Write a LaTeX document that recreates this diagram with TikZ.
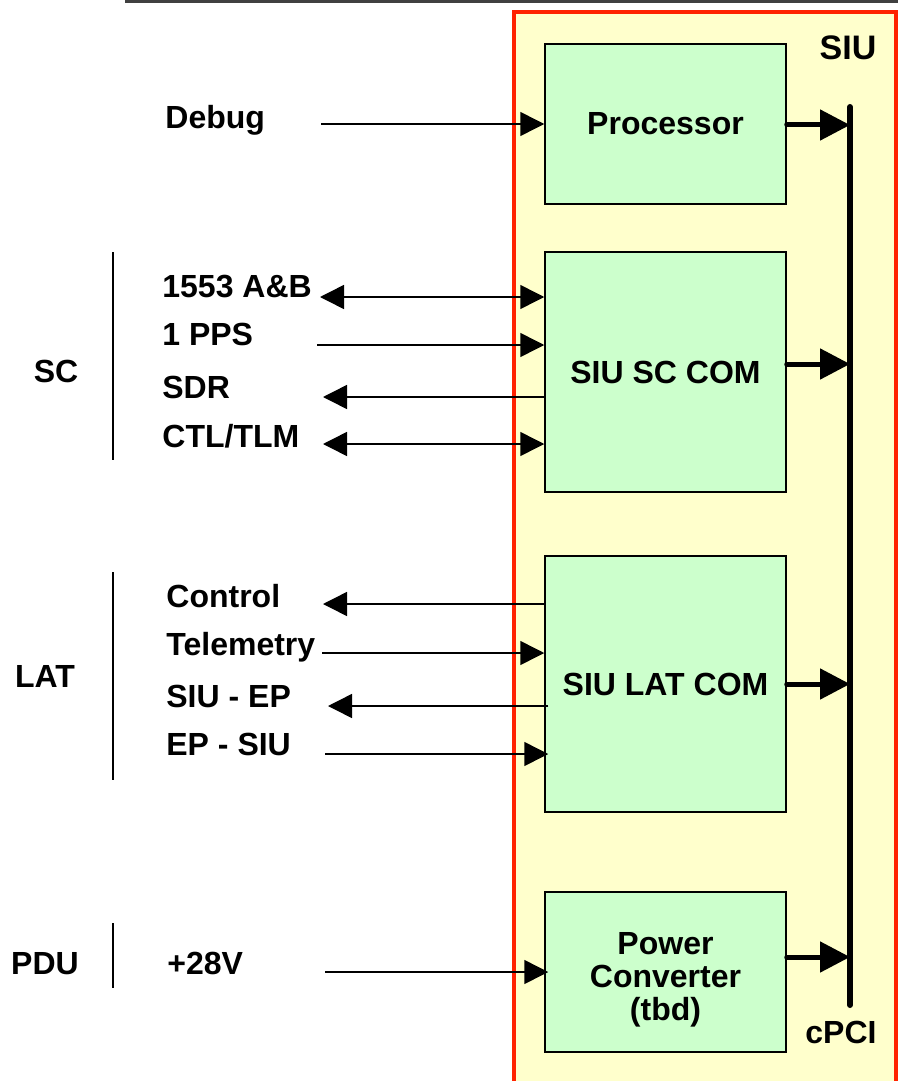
\documentclass[tikz,border=0pt]{standalone}
\usepackage{fontspec}
\setmainfont{Liberation Sans}
\usetikzlibrary{arrows.meta, positioning}
\usepackage{xcolor}
\definecolor{siured}{HTML}{FF2200}
\definecolor{siuyellow}{HTML}{FFFFCC}
\definecolor{siugreen}{HTML}{CCFFCC}

\begin{document}
\begin{tikzpicture}[
    x=0.5pt, y=-0.5pt,
    >={Triangle[length=12pt, width=12pt]},
    frame/.style={rectangle, draw=siured, fill=siuyellow, line width=2pt, minimum width=191pt, minimum height=544pt, inner sep=0pt},
    block/.style={rectangle, draw=black, fill=siugreen, line width=0.75pt, minimum width=120.5pt, inner sep=0pt, align=center, font=\fontsize{16}{16.5}\selectfont\bfseries},
    sigtext/.style={anchor=base west, inner sep=0pt, font=\fontsize{16}{19}\selectfont\bfseries},
    grouptext/.style={anchor=base, inner sep=0pt, font=\fontsize{16}{19}\selectfont\bfseries},
    sig/.style={line width=0.75pt},
    grpline/.style={line width=0.75pt},
    bus/.style={line width=3pt, line cap=round},
    busarrow/.style={line width=2.5pt, line cap=round, -{Triangle[length=15pt, width=15pt]}}
  ]
  \useasboundingbox (0,0) rectangle (898,1081);
  \clip (0,0) rectangle (898,1081);

  % top rule
  \coordinate (topl) at (125,2);
  \coordinate (topr) at (898,2);
  \draw[line width=1.5pt, black!75] (topl) -- (topr);

  % SIU frame and blocks
  \node[frame] (siu) at (705,556) {};
  \node[grouptext, font=\fontsize{17}{19}\selectfont\bfseries] (siutext) at (848,60) {SIU};
  \node[block, minimum height=80pt] (proc) at (665.5,124) {Processor};
  \node[block, minimum height=120pt] (sccom) at (665.5,372) {SIU SC COM};
  \node[block, minimum height=128pt] (latcom) at (665.5,684) {SIU LAT COM};
  \node[block, minimum height=80pt] (power) at (665.5,972) {\rule{0pt}{18.5pt}Power\\Converter\\(tbd)};

  % cPCI bus
  \coordinate (bustop) at (850,107);
  \coordinate (busbot) at (850,1005);
  \draw[bus] (bustop) -- (busbot);
  \node[grouptext] (cpci) at (841,1043) {cPCI};
  \draw[busarrow] (proc.east |- 0,125) -- (bustop |- 0,125);
  \draw[busarrow] (sccom.east |- 0,364) -- (bustop |- 0,364);
  \draw[busarrow] (latcom.east |- 0,684) -- (bustop |- 0,684);
  \draw[busarrow] (power.east |- 0,957) -- (bustop |- 0,957);

  % debug
  \node[sigtext] (debugtext) at (165,128) {Debug};
  \coordinate (debug) at (321,124);
  \draw[sig, ->] (debug) -- (proc.west |- debug);

  % SC group
  \node[grouptext] (sctext) at (56,382) {SC};
  \coordinate (sctop) at (113,252);
  \coordinate (scbot) at (113,460);
  \draw[grpline] (sctop) -- (scbot);
  \node[sigtext] (miltext) at (162,297) {1553 A\&B};
  \node[sigtext] (ppstext) at (162,345) {1 PPS};
  \node[sigtext] (sdrtext) at (162,398) {SDR};
  \node[sigtext] (ctltext) at (162,447) {CTL/TLM};
  \coordinate (mil) at (320,297);
  \coordinate (pps) at (317,345);
  \coordinate (sdr) at (323,397);
  \coordinate (ctltlm) at (323,444);
  \draw[sig, <->] (mil) -- (sccom.west |- mil);
  \draw[sig, ->] (pps) -- (sccom.west |- pps);
  \draw[sig, ->] (sccom.west |- sdr) -- (sdr);
  \draw[sig, <->] (ctltlm) -- (sccom.west |- ctltlm);

  % LAT group
  \node[grouptext] (lattext) at (45,687) {LAT};
  \coordinate (lattop) at (113,572);
  \coordinate (latbot) at (113,780);
  \draw[grpline] (lattop) -- (latbot);
  \node[sigtext] (ctrltext) at (166,607) {Control};
  \node[sigtext] (tlmtext) at (166,655) {Telemetry};
  \node[sigtext] (siueptext) at (166,707) {SIU - EP};
  \node[sigtext] (epsiutext) at (166,755) {EP - SIU};
  \coordinate (ctrl) at (323,604);
  \coordinate (tlm) at (322,653);
  \coordinate (siuep) at (328,706);
  \coordinate (epsiu) at (325,754);
  \draw[sig, ->] (latcom.west |- ctrl) -- (ctrl);
  \draw[sig, ->] (tlm) -- (latcom.west |- tlm);
  \draw[sig, ->] ([xshift=2pt]latcom.west |- siuep) -- (siuep);
  \draw[sig, ->] (epsiu) -- ([xshift=2pt]latcom.west |- epsiu);

  % PDU group
  \node[grouptext] (pdutext) at (45,974) {PDU};
  \coordinate (pdutop) at (113,923);
  \coordinate (pdubot) at (113,988);
  \draw[grpline] (pdutop) -- (pdubot);
  \node[sigtext] (pwrtext) at (167,974) {+28V};
  \coordinate (pwrin) at (325,972);
  \draw[sig, ->] (pwrin) -- ([xshift=2pt]power.west |- pwrin);
\end{tikzpicture}
\end{document}
